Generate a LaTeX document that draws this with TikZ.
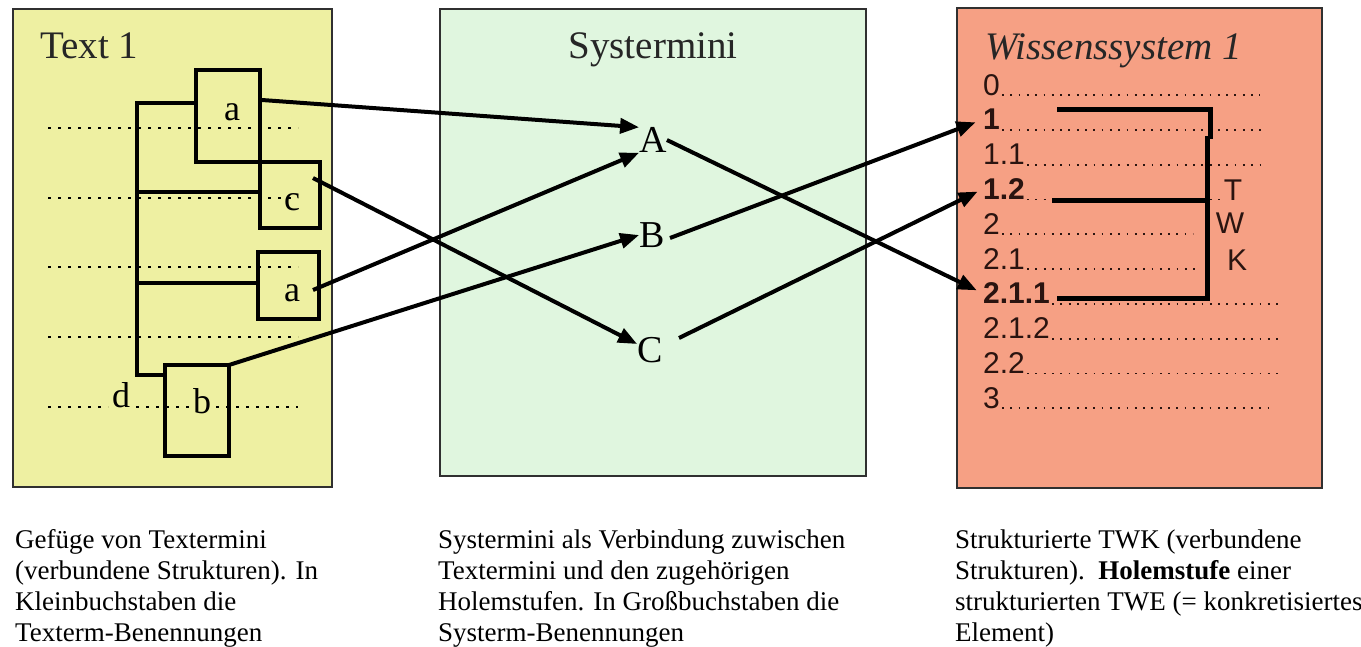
\documentclass[tikz,border=0pt]{standalone}
\usepackage{fontspec}
\setmainfont{Liberation Serif}
\newfontfamily\lsans{Liberation Sans}
\usetikzlibrary{arrows.meta}
\definecolor{ybg}{HTML}{EEF0A2}
\definecolor{gbg}{HTML}{E0F6DF}
\definecolor{sbg}{HTML}{F6A084}
\definecolor{ink}{HTML}{2A1410}
\definecolor{frame}{HTML}{303030}
\begin{document}
\begin{tikzpicture}[x=1pt,y=-1pt,
  panel/.style={draw=frame,line width=1.6pt,inner sep=0pt,outer sep=0pt},
  tbox/.style={draw=black,line width=4pt,inner sep=0pt,outer sep=0pt},
  ttitle/.style={inner sep=0pt,font=\fontsize{39}{46}\selectfont,text=black!85},
  lsmall/.style={inner sep=0pt,font=\fontsize{36}{42}\selectfont},
  lbig/.style={inner sep=0pt,font=\fontsize{38}{44}\selectfont},
  ritem/.style={inner sep=0pt,anchor=base west,font=\lsans\fontsize{30}{35}\selectfont,text=ink},
  captxt/.style={inner sep=0pt,anchor=base west,font=\fontsize{27}{31}\selectfont},
  ldot/.style={line width=2.6pt,dash pattern=on 2.6pt off 7.4pt,black},
  rdot/.style={line width=1.8pt,dash pattern=on 1.8pt off 6.5pt,ink},
  lbar/.style={line width=4pt,black},
  rbar/.style={line width=5pt,black},
  arr/.style={line width=4pt,black,-{Triangle[length=19pt,width=15pt]}}]
\useasboundingbox (0,0) rectangle (1361,646);
\fill[white] (0,0) rectangle (1361,646);

% panels
\node[panel,fill=ybg,minimum width=319pt,minimum height=478pt] (p1) at (172.5,248) {};
\node[panel,fill=gbg,minimum width=426pt,minimum height=467pt] (p2) at (653,242.5) {};
\node[panel,fill=sbg,minimum width=365pt,minimum height=480pt] (p3) at (1139.5,248) {};

% titles
\node[ttitle,anchor=base west] (t1) at (40,58) {Text 1};
\node[ttitle,anchor=base] (t2) at (653,58) {Systermini};
\node[ttitle,anchor=base west] (t3) at (985,59) {\itshape Wissenssystem 1};

% left dotted rows
\foreach \yy in {128,198,267,337} \draw[ldot] (48,\yy) -- (298,\yy);
\draw[ldot] (48,407) -- (108,407);
\draw[ldot] (136,407) -- (191,407);
\draw[ldot] (216,407) -- (298,407);

% left boxes
\node[tbox,minimum width=64pt,minimum height=92pt] (ba1) at (228,116) {};
\node[tbox,minimum width=60pt,minimum height=66pt] (bc) at (290,195) {};
\node[tbox,minimum width=61pt,minimum height=67pt] (ba2) at (288.5,285.5) {};
\node[tbox,minimum width=64pt,minimum height=91pt] (bb) at (197,410.5) {};
\node[lsmall] (la1) at (232,112) {a};
\node[lsmall] (lc) at (292,202) {c};
\node[lsmall] (la2) at (292,293) {a};
\node[lsmall] (lb) at (202,401) {b};
\node[lsmall] (ld) at (121,395) {d};

% left bracket
\coordinate (k1) at (137,103);
\coordinate (k2) at (137,192);
\coordinate (k3) at (137,283);
\coordinate (k4) at (137,375);
\draw[lbar] (ba1.west |- k1) -- (k1) -- (k4) -- (bb.west |- k4);
\draw[lbar] (k2) -- (bc.west |- k2);
\draw[lbar] (k3) -- (ba2.west |- k3);

% middle letters
\node[lbig] (A) at (653,140) {A};
\node[lbig] (B) at (652,235) {B};
\node[lbig] (C) at (650,350) {C};

% right list
\foreach \txt/\xe [count=\i from 0] in {0/1260,\textbf{1}/1262,1.1/1265,\textbf{1.2}/1222,2/1193,2.1/1200,\textbf{2.1.1}/1278,2.1.2/1278,2.2/1280,3/1268}{
  \node[ritem] (r\i) at (983,{95+34.8*\i}) {\txt};
  \draw[rdot] ([xshift=2pt]r\i.base east) -- (r\i.base east -| \xe,0);
}
\node[ritem,anchor=center] (tT) at (1233,190) {T};
\node[ritem,anchor=center] (tW) at (1230,223) {W};
\node[ritem,anchor=center] (tK) at (1237,260) {K};

% right bracket
\draw[rbar] (1057,109) -- (1210,109) -- (1210,139);
\draw[rbar] (1207,136) -- (1207,298) -- (1057,298);
\draw[rbar] (1052,200) -- (1207,200);

% arrow start points
\coordinate (a1o) at (262,100);
\coordinate (co) at (313,178);
\coordinate (a2o) at (313,290);
\coordinate (Bo) at (670,238);
\coordinate (Co) at (679,338);

% arrows
\draw[arr] (a1o) -- (A.north west);
\draw[arr] (a2o) -- (A.south west);
\draw[arr] (co) -- (C.155);
\draw[arr] (bb.north east) -- (B.west);
\draw[arr,shorten >=7pt] (A.east) -- (r6.west);
\draw[arr,shorten >=8pt] (Bo) -- (r1.west);
\draw[arr,shorten >=6pt] (Co) -- (r3.west);

% captions
\foreach \txt [count=\i] in {Gefüge von Textermini,(verbundene Strukturen). In,Kleinbuchstaben die,Texterm-Benennungen}
  \node[captxt] (cl\i) at (15,{517+31*\i}) {\txt};
\foreach \txt [count=\i] in {Systermini als Verbindung zuwischen,Textermini und den zugehörigen,Holemstufen. In Großbuchstaben die,Systerm-Benennungen}
  \node[captxt] (cm\i) at (438,{517+31*\i}) {\txt};
\foreach \txt [count=\i] in {Strukturierte TWK (verbundene,Strukturen).\ \ \textbf{Holemstufe} einer,strukturierten TWE (= konkretisiertes,Element)}
  \node[captxt] (cr\i) at (955,{517+31*\i}) {\txt};
\end{tikzpicture}
\end{document}
